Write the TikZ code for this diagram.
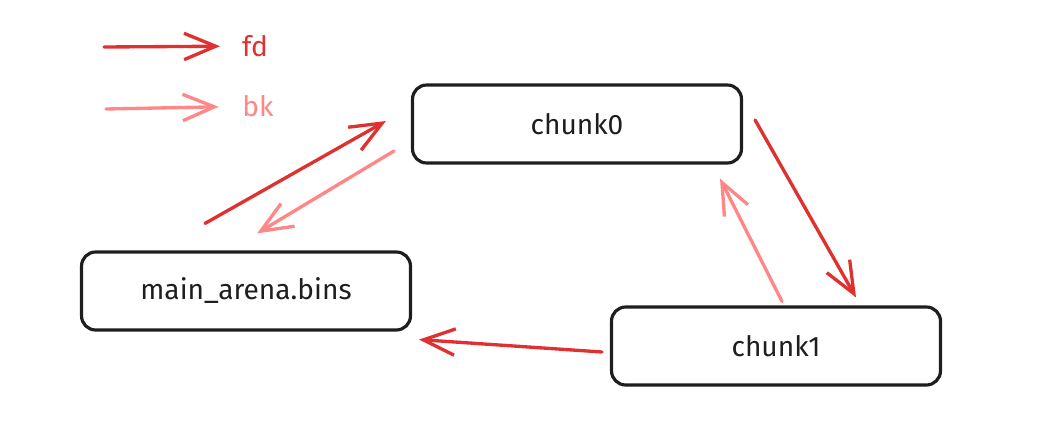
\documentclass[tikz,border=0pt]{standalone}
\usepackage{fontspec}
\setmainfont{Fira Sans}
\usetikzlibrary{arrows.meta}
\usetikzlibrary{calc}

\definecolor{fdred}{HTML}{E03131}
\definecolor{bkred}{HTML}{FF8787}
\definecolor{ink}{HTML}{1E1E1E}

\tikzset{
    chunkbox/.style={draw=ink, line width=1.8pt, rounded corners=8pt,
        minimum width=6.58cm, minimum height=1.56cm, text=ink,
        font=\fontsize{16}{18}\selectfont},
    fdarrow/.style={draw=fdred, line width=1.9pt, line cap=round,
        -{Straight Barb[length=18pt,width=15pt,line width=1.9pt]}},
    bkarrow/.style={draw=bkred, line width=1.9pt, line cap=round,
        -{Straight Barb[length=18pt,width=15pt,line width=1.9pt]}},
    legendtext/.style={font=\fontsize{16}{18}\selectfont}
}

\begin{document}
\begin{tikzpicture}[x=0.02cm, y=-0.02cm]

            \useasboundingbox (0, 0) rectangle (1064, 436);

            % legend
            \node[legendtext, text=fdred] (fdlabel) at (255, 46) {fd};
            \node[legendtext, text=bkred] (bklabel) at (258, 106) {bk};
            \coordinate (fdtail) at (104, 47);
            \coordinate (bktail) at (106, 109);
            \draw[fdarrow, shorten >=9pt] (fdtail) -- (fdlabel);
            \draw[bkarrow, shorten >=10pt] (bktail) -- (bklabel);

            % boxes
            \node[chunkbox] (chunk0) at (577, 124) {chunk0};
            \node[chunkbox] (bins) at (246, 291) {main\_arena.bins};
            \node[chunkbox] (chunk1) at (776, 346) {chunk1};

            % fd links
            \draw[fdarrow] ($(bins.north)+(-41, -27)$)
            -- ($(chunk0.west)+(-25, -3)$);

            \draw[fdarrow] ($(chunk0.east)+(12, -4)$)
            -- ($(chunk1.north)+(80, -8)$);

            \draw[fdarrow] ($(chunk1.west)+(-8, 6)$)
            -- ($(bins.south east)+(7, 8)$);

            % bk links
            \draw[bkarrow] ($(chunk0.west)+(-17, 27)$)
            -- ($(bins.north)+(11, -17)$);

            \draw[bkarrow] ($(chunk1.north)+(6, -4)$)
            -- ($(chunk0.south)+(143, 14)$);
        \end{tikzpicture}
\end{document}
